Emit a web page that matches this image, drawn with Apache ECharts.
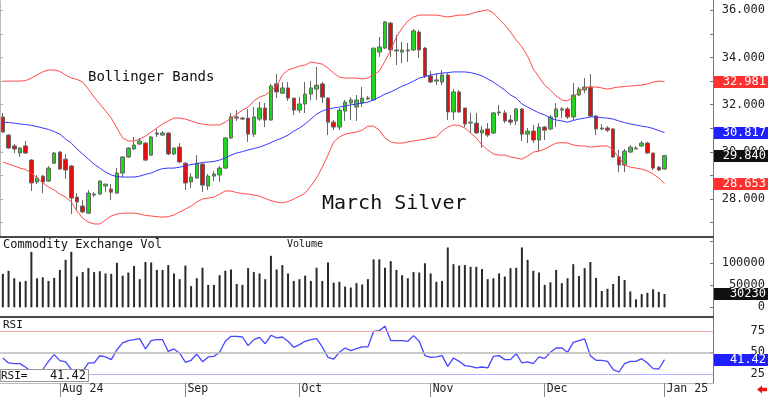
<!DOCTYPE html>
<html>
<head>
<meta charset="utf-8">
<title>March Silver</title>
<script src="https://cdn.jsdelivr.net/npm/echarts@6/dist/echarts.min.js"></script>
<style>
  html, body { margin: 0; padding: 0; background: #fff; }
  #chart { width: 768px; height: 398px; }
</style>
</head>
<body>
<div id="chart"></div>
<script>
// trading days, Jul 18 2024 .. Jan 2 2025
const tradingDays = [
  '07-18','07-19','07-22','07-23','07-24','07-25','07-26','07-29','07-30','07-31',
  '08-01','08-02','08-05','08-06','08-07','08-08','08-09','08-12','08-13','08-14','08-15',
  '08-16','08-19','08-20','08-21','08-22','08-23','08-26','08-27','08-28','08-29','08-30',
  '09-03','09-04','09-05','09-06','09-09','09-10','09-11','09-12','09-13','09-16',
  '09-17','09-18','09-19','09-20','09-23','09-24','09-25','09-26','09-27','09-30',
  '10-01','10-02','10-03','10-04','10-07','10-08','10-09','10-10','10-11','10-14','10-15',
  '10-16','10-17','10-18','10-21','10-22','10-23','10-24','10-25','10-28','10-29','10-30','10-31',
  '11-01','11-04','11-05','11-06','11-07','11-08','11-11','11-12','11-13','11-14',
  '11-15','11-18','11-19','11-20','11-21','11-22','11-25','11-26','11-27','11-29',
  '12-02','12-03','12-04','12-05','12-06','12-09','12-10','12-11','12-12','12-13','12-16',
  '12-17','12-18','12-19','12-20','12-23','12-24','12-26','12-27','12-30','12-31',
  '01-02'
]
const monthStarts = ['08-01', '09-03', '10-01', '11-01', '12-02', '01-02']
const monthLabels = ['Aug 24', 'Sep', 'Oct', 'Nov', 'Dec', 'Jan 25']

const opens = [
  31.48,30.71,30.25,29.95,30.25,29.65,28.72,28.97,28.76,29.52,
  29.99,29.69,29.40,28.08,27.70,27.40,28.21,28.21,28.55,28.42,
  28.25,29.10,29.78,30.12,30.33,30.37,29.86,30.80,30.71,30.80,
  29.91,30.20,29.52,28.72,28.89,29.48,28.55,28.97,29.02,29.31,
  30.59,31.48,31.43,31.43,30.75,31.39,31.86,31.35,32.88,32.49,
  32.71,32.28,31.77,32.03,32.45,32.66,32.88,32.28,31.26,31.05,
  31.73,32.07,31.90,32.07,32.28,32.20,34.23,34.40,35.46,34.32,
  34.23,34.28,34.32,35.08,34.40,33.22,33.00,32.96,33.26,31.69,
  32.54,31.86,31.22,31.22,30.80,30.97,30.80,31.65,31.65,31.35,
  31.31,31.82,30.75,30.88,30.50,31.05,30.97,31.48,31.77,31.82,
  31.48,32.41,32.62,32.75,31.52,30.97,31.01,30.97,29.78,29.44,
  29.99,30.12,30.25,30.37,29.95,29.35,29.27
]
const closes = [
  30.84,30.16,30.12,30.16,29.95,28.68,28.89,28.72,29.31,29.95,
  29.27,29.23,28.04,27.87,27.45,28.25,28.17,28.76,28.63,28.29,
  29.10,29.78,30.16,30.29,30.46,29.65,30.63,30.75,30.80,29.91,
  30.16,29.57,28.68,28.93,29.52,28.59,28.97,29.06,29.31,30.59,
  31.48,31.43,31.39,30.75,31.48,31.86,31.35,32.79,32.54,32.71,
  32.28,31.77,32.03,32.45,32.71,32.83,32.32,31.26,31.05,31.77,
  32.11,32.20,32.20,32.28,32.24,34.40,34.45,35.51,34.32,34.28,
  34.32,34.32,35.13,34.32,33.22,32.96,33.05,33.26,31.69,32.54,
  31.69,31.18,31.26,30.80,30.92,30.71,31.65,31.69,31.31,31.26,
  31.82,30.75,30.88,30.50,31.05,30.92,31.48,31.82,31.82,31.48,
  32.41,32.66,32.75,31.52,30.97,31.01,30.92,29.78,29.44,30.03,
  30.20,30.16,30.37,29.95,29.31,29.23,29.84
]
const lows = [
  30.80,30.12,29.95,29.78,29.91,28.34,28.63,28.25,28.72,29.48,
  29.23,28.85,27.36,27.53,27.40,27.36,28.08,28.17,28.29,27.95,
  28.21,28.93,29.74,30.08,30.29,29.61,29.82,30.63,30.67,29.86,
  29.86,29.52,28.38,28.46,28.85,28.29,28.38,28.76,28.72,29.27,
  30.54,31.31,31.35,30.42,30.63,31.31,31.05,31.31,32.28,32.45,
  32.16,31.56,31.65,31.65,32.20,32.20,32.07,30.71,30.92,30.92,
  31.31,31.35,31.31,31.90,32.20,32.20,34.02,34.36,34.02,33.68,
  33.77,33.81,34.28,33.98,33.13,32.92,32.83,32.83,31.35,31.35,
  31.65,31.05,30.80,30.78,30.16,30.63,30.75,31.52,31.22,31.14,
  31.14,30.46,30.37,30.37,30.03,30.50,30.92,31.05,31.43,31.39,
  31.35,32.37,32.49,31.48,30.71,30.92,30.84,29.74,29.14,29.14,
  29.95,30.12,30.20,29.91,29.23,29.19,29.23
]
const highs = [
  31.65,30.75,30.33,30.20,30.46,29.69,29.02,29.02,29.40,29.99,
  30.03,29.91,29.44,28.25,27.95,28.38,28.29,28.80,28.65,28.63,
  29.31,29.82,30.20,30.63,30.59,30.42,30.67,30.97,30.88,30.82,
  30.20,30.37,29.57,29.10,29.86,29.52,29.06,29.19,29.40,30.63,
  31.65,31.77,31.48,31.82,31.90,32.11,32.07,32.88,33.30,32.96,
  32.96,32.28,32.32,32.96,33.00,33.60,32.96,32.32,31.35,31.86,
  32.20,32.32,32.41,32.75,32.37,34.40,34.87,35.55,35.51,34.96,
  34.66,34.62,35.21,35.17,34.45,33.43,33.34,33.47,33.34,32.66,
  32.62,31.86,31.65,31.65,31.09,31.22,31.69,31.99,31.77,31.56,
  31.86,31.86,31.01,31.14,31.22,31.09,31.56,32.07,31.90,31.90,
  32.92,32.75,33.13,33.30,31.56,31.18,31.09,31.01,30.08,30.12,
  30.29,30.25,30.46,30.42,29.95,29.40,29.84
]

// Bollinger bands as drawn
const upperBand = [
  33.00,33.00,33.00,33.00,33.02,33.13,33.26,33.39,33.47,33.47,
  33.41,33.26,33.13,33.07,32.96,32.66,32.32,32.03,31.73,31.43,
  31.01,30.59,30.46,30.46,30.54,30.67,30.84,31.01,31.18,31.31,
  31.43,31.43,31.39,31.31,31.22,31.18,31.14,31.14,31.14,31.26,
  31.43,31.60,31.77,31.90,32.16,32.32,32.41,32.58,32.79,33.26,
  33.47,33.55,33.64,33.68,33.81,33.77,33.72,33.55,33.34,33.17,
  33.13,33.13,33.13,33.09,33.13,33.26,33.43,33.85,34.32,34.87,
  35.25,35.55,35.72,35.80,35.80,35.80,35.80,35.76,35.72,35.76,
  35.80,35.80,35.85,35.93,35.97,36.02,35.89,35.63,35.38,35.08,
  34.74,34.45,34.06,33.51,33.17,32.83,32.62,32.37,32.20,32.16,
  32.32,32.54,32.71,32.75,32.75,32.71,32.66,32.71,32.75,32.77,
  32.79,32.81,32.83,32.88,32.96,33.00,32.981
]
const middleBand = [
  31.26,31.24,31.22,31.18,31.16,31.12,31.07,31.01,30.95,30.86,
  30.75,30.54,30.37,30.12,29.91,29.69,29.48,29.31,29.14,29.02,
  28.95,28.93,28.93,28.93,28.97,29.04,29.10,29.21,29.29,29.31,
  29.31,29.35,29.40,29.46,29.50,29.55,29.57,29.59,29.65,29.74,
  29.86,29.95,30.01,30.08,30.14,30.20,30.29,30.39,30.50,30.59,
  30.71,30.88,31.01,31.18,31.39,31.60,31.73,31.82,31.86,31.90,
  31.94,31.99,32.03,32.07,32.11,32.20,32.32,32.45,32.54,32.66,
  32.79,32.88,33.00,33.13,33.19,33.26,33.30,33.34,33.36,33.39,
  33.39,33.39,33.36,33.30,33.22,33.09,32.96,32.79,32.62,32.41,
  32.28,32.03,31.90,31.77,31.65,31.56,31.43,31.35,31.31,31.26,
  31.33,31.39,31.43,31.48,31.48,31.45,31.43,31.39,31.31,31.24,
  31.18,31.14,31.09,31.05,30.99,30.90,30.817
]
const lowerBand = [
  29.57,29.48,29.40,29.31,29.25,29.10,28.89,28.68,28.51,28.38,
  28.21,28.08,27.87,27.49,27.19,27.02,26.94,26.94,27.11,27.28,
  27.36,27.40,27.40,27.40,27.36,27.30,27.28,27.25,27.23,27.25,
  27.32,27.45,27.57,27.70,27.87,28.00,28.04,28.08,28.21,28.34,
  28.34,28.27,28.23,28.21,28.17,28.12,28.02,27.93,27.87,27.83,
  27.89,28.00,28.12,28.25,28.55,28.89,29.35,29.86,30.42,30.63,
  30.75,30.80,30.84,30.92,31.09,31.09,30.92,30.59,30.42,30.37,
  30.37,30.42,30.46,30.50,30.54,30.59,30.63,30.88,31.05,31.14,
  31.12,31.01,30.80,30.59,30.29,30.08,29.91,29.86,29.86,29.78,
  29.74,29.69,29.82,29.99,30.03,30.12,30.25,30.37,30.39,30.37,
  30.29,30.25,30.25,30.20,30.22,30.25,30.25,30.08,29.74,29.44,
  29.35,29.31,29.27,29.19,29.06,28.89,28.653
]

const volumes = [
  76000,83000,66000,58000,60000,126000,66000,68000,60000,67000,
  85000,108000,126000,70000,80000,89000,80000,82000,77000,76000,
  101000,72000,79000,94000,64000,103000,102000,85000,85000,96000,
  77000,64000,95000,48000,66000,90000,51000,51000,73000,83000,
  86000,53000,51000,89000,80000,77000,64000,117000,86000,96000,
  77000,60000,64000,72000,60000,90000,60000,102000,56000,58000,
  47000,45000,55000,52000,64000,109000,109000,90000,105000,85000,
  73000,66000,80000,79000,100000,77000,58000,60000,136000,98000,
  95000,96000,92000,92000,87000,64000,66000,77000,70000,89000,
  90000,136000,108000,83000,79000,51000,57000,85000,55000,66000,
  98000,71000,89000,103000,67000,37000,42000,53000,71000,62000,
  36000,18000,30000,33000,41000,35000,30230
]

const rsi = [
  43.4,37.6,36.8,36.8,32.6,27.5,26.5,30.0,39.5,47.3,
  40.3,39.0,30.0,26.5,27.5,37.6,37.6,46.0,44.6,41.5,
  53.0,60.9,63.6,64.7,65.9,53.9,63.6,64.7,64.7,51.0,
  53.9,49.0,38.4,40.7,48.0,39.1,44.6,45.3,50.0,62.8,
  68.6,68.6,67.8,57.8,64.7,67.4,60.0,69.8,66.7,67.8,
  62.8,55.8,58.9,62.8,64.7,65.9,56.2,44.2,42.2,50.0,
  55.0,51.9,54.3,56.2,56.2,74.4,75.2,80.2,63.6,63.6,
  63.6,62.8,69.4,62.8,46.1,44.2,44.6,46.1,33.7,43.4,
  39.5,34.5,33.7,31.8,32.9,31.8,45.3,46.1,41.5,41.5,
  48.4,37.6,38.8,36.8,44.6,43.0,50.0,55.0,55.0,50.0,
  61.6,63.6,65.5,46.1,40.7,40.7,39.5,29.8,27.1,36.8,
  39.5,39.5,42.6,37.6,31.0,30.6,41.42
]

const priceLabels = [28, 30, 32, 34, 36]
const priceTicks = [27, 28, 29, 30, 31, 32, 33, 34, 35, 36]
const volumeLabels = [0, 50000, 100000]
const rsiLabels = [25, 50, 75]

const mono = '"DejaVu Sans Mono", monospace'

// empty slots to the right of the last bar
const categories = tradingDays.slice()
for (let k = 1; k <= 8; k++) categories.push('pad' + k)

const ohlc = opens.map((o, i) => [o, closes[i], lows[i], highs[i]])
const isMonthStart = (index, value) => monthStarts.indexOf(value) >= 0

const chart = echarts.init(document.getElementById('chart'))

const hiddenX = (gi) => ({
  gridIndex: gi, type: 'category', data: categories, boundaryGap: true, show: false
})

const rightAxis = (gi, min, max, labels, ticks, fmt) => ({
  gridIndex: gi, type: 'value', position: 'right', min: min, max: max,
  axisLine: { show: true, lineStyle: { color: '#777' } },
  axisTick: { show: true, inside: true, length: 3, customValues: ticks, lineStyle: { color: '#777' } },
  axisLabel: {
    customValues: labels, formatter: fmt, align: 'right', margin: 52,
    fontFamily: mono, fontSize: 12, color: '#222'
  },
  splitLine: { show: false }
})

const option = {
  animation: false,
  backgroundColor: '#fff',
  grid: [
    { left: 0, right: 54, top: 0, height: 236 },
    { left: 0, right: 54, top: 238, height: 79 },
    { left: 0, right: 54, top: 318, height: 65 }
  ],
  xAxis: [
    hiddenX(0),
    hiddenX(1),
    {
      gridIndex: 2, type: 'category', data: categories, boundaryGap: true,
      axisLine: { show: true, lineStyle: { color: '#bbb' } },
      axisTick: { show: true, alignWithLabel: true, interval: isMonthStart, length: 14, lineStyle: { color: '#888' } },
      axisLabel: {
        interval: isMonthStart,
        formatter: (v) => monthLabels[monthStarts.indexOf(v)],
        align: 'left', verticalAlign: 'middle', margin: 6, padding: [0, 0, 0, 2],
        fontFamily: mono, fontSize: 11.5, color: '#222'
      },
      splitLine: { show: false }
    }
  ],
  yAxis: [
    rightAxis(0, 26.43, 36.44, priceLabels, priceTicks, (v) => v.toFixed(3)),
    rightAxis(1, -22000, 157500, volumeLabels, [0, 50000, 100000, 150000], (v) => String(v)),
    rightAxis(2, 14.3, 89.9, rsiLabels, rsiLabels, (v) => String(v)),
    {
      gridIndex: 0, type: 'value', position: 'left', min: 26.43, max: 36.44,
      axisLine: { show: true, lineStyle: { color: '#aaa', type: 'dotted' } },
      axisTick: { show: true, inside: true, length: 3, customValues: priceTicks, lineStyle: { color: '#aaa' } },
      axisLabel: { show: false },
      splitLine: { show: false }
    }
  ],
  series: [
    {
      name: 'March Silver', type: 'candlestick', xAxisIndex: 0, yAxisIndex: 0,
      data: ohlc, barWidth: 4,
      itemStyle: { color: '#1fd51f', color0: '#e01010', borderColor: '#666', borderColor0: '#666', borderWidth: 1 }
    },
    {
      name: 'Upper', type: 'line', xAxisIndex: 0, yAxisIndex: 0, data: upperBand,
      symbol: 'none', lineStyle: { color: '#ff4a4a', width: 1 }
    },
    {
      name: 'Middle', type: 'line', xAxisIndex: 0, yAxisIndex: 0, data: middleBand,
      symbol: 'none', lineStyle: { color: '#3838ff', width: 1 }
    },
    {
      name: 'Lower', type: 'line', xAxisIndex: 0, yAxisIndex: 0, data: lowerBand,
      symbol: 'none', lineStyle: { color: '#ff4a4a', width: 1 }
    },
    {
      name: 'Volume', type: 'bar', xAxisIndex: 1, yAxisIndex: 1, data: volumes,
      barWidth: 2, itemStyle: { color: '#2a2a2a' }
    },
    {
      name: 'RSI', type: 'line', xAxisIndex: 2, yAxisIndex: 2, data: rsi,
      symbol: 'none', lineStyle: { color: '#4646ff', width: 1.3 }, z: 3,
      markLine: {
        silent: true, symbol: 'none', label: { show: false },
        data: [
          { yAxis: 75, lineStyle: { color: '#f4a8a8', width: 1, type: 'solid' } },
          { yAxis: 50, lineStyle: { color: '#b8b8b8', width: 1.5, type: 'solid' } },
          { yAxis: 25, lineStyle: { color: '#b0b4ff', width: 1, type: 'solid' } }
        ]
      }
    }
  ]
}

chart.setOption(option)

// overlays: titles, value boxes, panel separators
const txt = (x, y, text, size, align, color) => ({
  type: 'text', x: x, y: y, z: 100,
  style: {
    text: text, fill: color || '#111', font: size + 'px ' + mono,
    align: align || 'left', verticalAlign: 'middle',
    textAlign: align || 'left', textVerticalAlign: 'middle'
  }
})

const valueBox = (axis, value, fill, digits) => {
  const y = chart.convertToPixel({ yAxisIndex: axis }, value)
  return [
    { type: 'rect', z: 100, shape: { x: 714, y: Math.round(y) - 6, width: 54, height: 12 }, style: { fill: fill } },
    txt(766, Math.round(y), value.toFixed(digits), 12, 'right', '#fff')
  ]
}

const last = closes.length - 1
const elements = [
  { type: 'line', z: 100, shape: { x1: 0, y1: 237, x2: 714, y2: 237 }, style: { stroke: '#4a4a4a', lineWidth: 2 } },
  { type: 'line', z: 100, shape: { x1: 0, y1: 317, x2: 714, y2: 317 }, style: { stroke: '#4a4a4a', lineWidth: 2 } },
  txt(88, 77, 'Bollinger Bands', 14),
  txt(322, 204, 'March Silver', 20),
  txt(3, 245, 'Commodity Exchange Vol', 12),
  txt(287, 244, 'Volume', 10),
  txt(3, 325, 'RSI', 11),
  { type: 'rect', z: 100, shape: { x: 0.5, y: 369.5, width: 88, height: 12 }, style: { fill: '#fff', stroke: '#999', lineWidth: 1 } },
  txt(1, 376, 'RSI=', 11),
  txt(86, 376, rsi[last].toFixed(2), 12, 'right'),
  {
    type: 'polygon', z: 100,
    shape: { points: [[757, 389.5], [762, 385.5], [762, 387.8], [767, 387.8], [767, 391.2], [762, 391.2], [762, 393.5]] },
    style: { fill: '#e81818' }
  }
]
  .concat(valueBox(0, upperBand[last], '#ff3030', 3))
  .concat(valueBox(0, middleBand[last], '#2020ff', 3))
  .concat(valueBox(0, closes[last], '#111', 3))
  .concat(valueBox(0, lowerBand[last], '#ff3030', 3))
  .concat(valueBox(1, volumes[last], '#111', 0))
  .concat(valueBox(2, rsi[last], '#2020ff', 2))

chart.setOption({ graphic: { elements: elements } })
</script>
</body>
</html>
